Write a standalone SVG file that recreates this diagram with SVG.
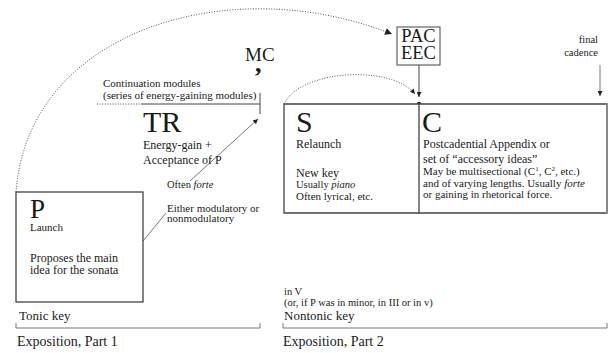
<svg xmlns="http://www.w3.org/2000/svg" width="611" height="353" viewBox="0 0 611 353">
<defs>
<marker id="ah" viewBox="0 0 10 10" refX="10" refY="5" markerWidth="10" markerHeight="7" markerUnits="userSpaceOnUse" orient="auto"><path d="M0,0 L10,5 L0,10 z" fill="#222"/></marker>
<marker id="ahs" viewBox="0 0 10 10" refX="10" refY="5" markerWidth="7" markerHeight="5" markerUnits="userSpaceOnUse" orient="auto"><path d="M0,0 L10,5 L0,10 z" fill="#222"/></marker>
</defs>
<style>
text{font-family:"Liberation Serif","Times New Roman",serif;fill:#1a1a1a}
.box{fill:#fff;stroke:#444;stroke-width:1.3}
.ln{stroke:#444;stroke-width:1;fill:none}
.gl{stroke:#666;stroke-width:0.9;fill:none}
.dot{stroke:#555;stroke-width:1;fill:none;stroke-dasharray:1 1.6}
.big{font-size:30px}
.m{font-size:12px}
.s{font-size:11px}
.xs{font-size:10.5px}
.k{font-size:13px}
.e{font-size:14px}
</style>
<rect width="611" height="353" fill="#fff"/>

<g id="connectors">
  <path class="dot" d="M16,192 C28,30 230,-30 392,34" marker-end="url(#ah)"/>
  <path class="dot" d="M284,104 C300,70 390,64 415,94" marker-end="url(#ahs)"/>
  <line class="ln" x1="419" y1="65" x2="419" y2="97" marker-end="url(#ahs)"/>
  <line class="gl" x1="600" y1="65" x2="600" y2="96" marker-end="url(#ahs)"/>
  <line class="dot" x1="97" y1="104" x2="141" y2="104"/>
  <line class="ln" x1="141" y1="104" x2="260" y2="104"/>
  <line class="ln" x1="260" y1="93" x2="260" y2="114"/>
  <line class="gl" x1="190" y1="181" x2="258" y2="119" marker-end="url(#ahs)"/>
  <line class="gl" x1="143" y1="241" x2="166" y2="213"/>
  <path class="gl" d="M16,323 V328 H260 V323"/>
  <path class="gl" d="M283,323 V328 H607 V323"/>
  <circle cx="419" cy="104" r="2.2" fill="#222"/>
</g>

<g id="node-P">
  <rect class="box" x="16" y="192" width="127" height="110"/>
  <text x="30" y="218" style="font-size:27px">P</text>
  <text class="s" x="30" y="231">Launch</text>
  <text class="m" x="30" y="262">Proposes the main</text>
  <text class="m" x="30" y="274">idea for the sonata</text>
</g>

<g id="node-TR">
  <text class="s" x="103" y="87">Continuation modules</text>
  <text class="s" x="103" y="99">(series of energy-gaining modules)</text>
  <text class="big" x="143" y="132">TR</text>
  <text class="m" x="143" y="149">Energy-gain +</text>
  <text class="m" x="143" y="164">Acceptance of P</text>
  <text class="xs" x="167" y="188">Often <tspan font-style="italic">forte</tspan></text>
  <text class="s" x="167" y="212">Either modulatory or</text>
  <text class="s" x="167" y="222">nonmodulatory</text>
</g>

<g id="node-MC">
  <text x="245" y="61" style="font-size:19px">MC</text>
  <text x="255" y="72" style="font-size:26px;font-weight:bold">,</text>
</g>

<g id="node-PAC">
  <rect x="397" y="27" width="43" height="38" fill="#fff" stroke="#444" stroke-width="1"/>
  <text x="418.5" y="42" text-anchor="middle" style="font-size:18.5px">PAC</text>
  <text x="418.5" y="59" text-anchor="middle" style="font-size:18.5px">EEC</text>
</g>

<g id="node-final">
  <text class="xs" x="598" y="43" text-anchor="end">final</text>
  <text class="xs" x="598" y="56" text-anchor="end">cadence</text>
</g>

<g id="node-S">
  <path class="box" d="M419,104 H284 V213 H419"/>
  <text class="big" x="296" y="132">S</text>
  <text class="m" x="296" y="148">Relaunch</text>
  <text class="m" x="296" y="177">New key</text>
  <text class="xs" x="296" y="188">Usually <tspan font-style="italic">piano</tspan></text>
  <text class="s" x="296" y="200">Often lyrical, etc.</text>
</g>

<g id="node-C">
  <path class="box" d="M419,104 H607 V213 H419 Z"/>
  <line x1="607" y1="104" x2="607" y2="213" stroke="#888" stroke-width="2"/>
  <text class="big" x="422" y="132">C</text>
  <text class="m" x="423" y="148">Postcadential Appendix or</text>
  <text class="m" x="423" y="163">set of “accessory ideas”</text>
  <text class="s" x="423" y="175">May be multisectional (C<tspan dy="-4" style="font-size:7px">1</tspan><tspan dy="4">, C</tspan><tspan dy="-4" style="font-size:7px">2</tspan><tspan dy="4">, etc.)</tspan></text>
  <text class="s" x="423" y="187">and of varying lengths. Usually <tspan font-style="italic">forte</tspan></text>
  <text class="s" x="423" y="198">or gaining in rhetorical force.</text>
</g>

<g id="labels">
  <text class="k" x="19" y="320">Tonic key</text>
  <text class="e" x="17" y="346">Exposition, Part 1</text>
  <text class="xs" x="284" y="295">in V</text>
  <text class="xs" x="284" y="306">(or, if P was in minor, in III or in v)</text>
  <text class="k" x="284" y="320">Nontonic key</text>
  <text class="e" x="283" y="346">Exposition, Part 2</text>
</g>
</svg>
